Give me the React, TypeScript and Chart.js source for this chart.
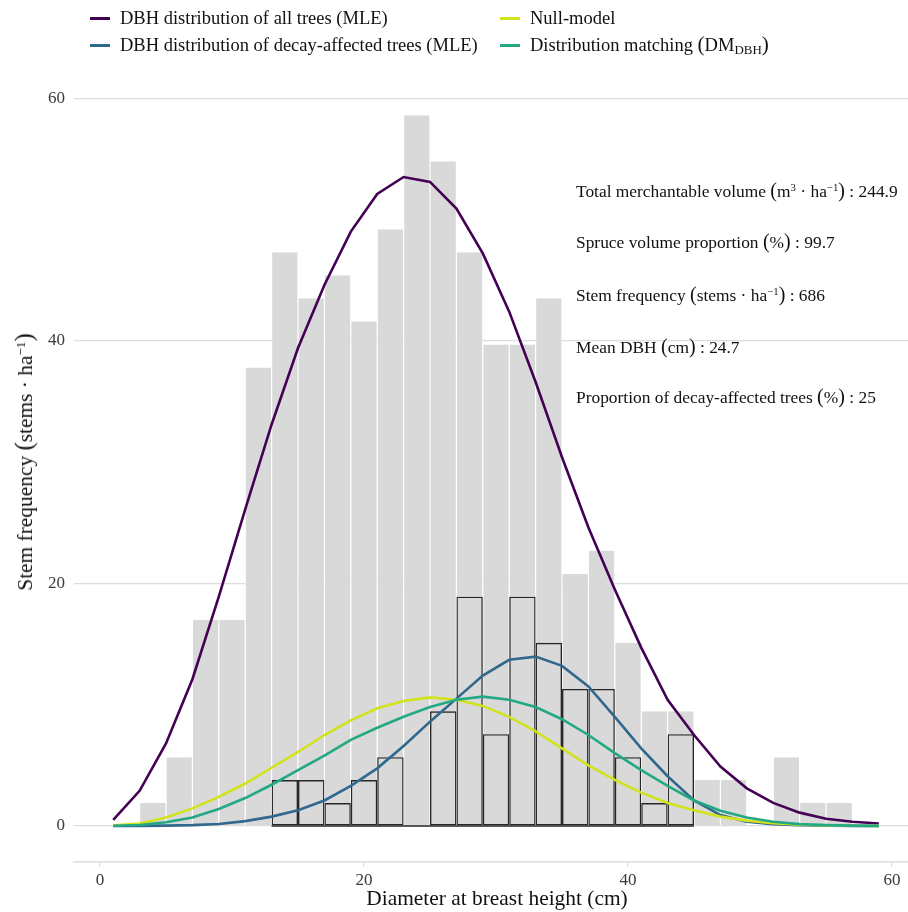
import React, { useEffect, useRef } from 'react';
import { Chart, registerables } from 'chart.js';

Chart.register(...registerables);

// Histogram bins (2 cm wide, centred on even diameters)
const binCenters = [2, 4, 6, 8, 10, 12, 14, 16, 18, 20, 22, 24, 26, 28, 30, 32, 34, 36, 38, 40, 42, 44, 46, 48, 50, 52, 54, 56, 58];
const allTrees = [0, 1.89, 5.67, 17.0, 17.0, 37.8, 47.3, 43.5, 45.4, 41.6, 49.2, 58.6, 54.8, 47.3, 39.7, 39.7, 43.5, 20.8, 22.7, 15.1, 9.45, 9.45, 3.78, 3.78, 0, 5.67, 1.89, 1.89, 0];

const decayCenters = [14, 16, 18, 20, 22, 24, 26, 28, 30, 32, 34, 36, 38, 40, 42, 44];
const decayTrees = [3.78, 3.78, 1.89, 3.78, 5.67, 0, 9.45, 18.9, 7.56, 18.9, 15.1, 11.3, 11.3, 5.67, 1.89, 7.56];

// Fitted curves evaluated at odd diameters
const curveX = [1, 3, 5, 7, 9, 11, 13, 15, 17, 19, 21, 23, 25, 27, 29, 31, 33, 35, 37, 39, 41, 43, 45, 47, 49, 51, 53, 55, 57, 59];
const mleAll = [0.5, 2.9, 6.8, 12.1, 18.9, 26.1, 33.1, 39.4, 44.6, 49.0, 52.1, 53.5, 53.1, 50.9, 47.2, 42.4, 36.6, 30.4, 24.6, 19.5, 14.7, 10.4, 7.5, 4.9, 3.1, 1.9, 1.1, 0.6, 0.35, 0.2];
const mleDecay = [0, 0.01, 0.03, 0.07, 0.16, 0.4, 0.77, 1.3, 2.1, 3.3, 4.75, 6.6, 8.6, 10.5, 12.4, 13.7, 13.96, 13.2, 11.5, 9.0, 6.4, 4.1, 2.1, 0.9, 0.35, 0.15, 0.06, 0.02, 0.01, 0];
const nullModel = [0.05, 0.2, 0.7, 1.45, 2.4, 3.5, 4.8, 6.1, 7.5, 8.7, 9.7, 10.3, 10.6, 10.4, 9.9, 9.0, 7.8, 6.4, 5.0, 3.8, 2.75, 1.9, 1.3, 0.77, 0.44, 0.22, 0.1, 0.05, 0.02, 0.01];
const distMatching = [0.02, 0.08, 0.3, 0.7, 1.4, 2.3, 3.4, 4.6, 5.8, 7.1, 8.1, 9.0, 9.8, 10.4, 10.66, 10.4, 9.8, 8.8, 7.5, 6.0, 4.6, 3.3, 2.1, 1.26, 0.7, 0.35, 0.15, 0.07, 0.03, 0.01];

const yTicks = [0, 20, 40, 60];
const xTicks = [0, 20, 40, 60];

const FONT = '"Liberation Serif", "Times New Roman", serif';

const COLORS = {
  all: '#440154',
  decay: '#31688E',
  nullm: '#D2E21B',
  dm: '#23A884',
};

const pts = (xs: number[], ys: number[]) => xs.map((x, i) => ({ x, y: ys[i] }));

export default function App() {
  const ref = useRef<HTMLCanvasElement>(null);

  useEffect(() => {
    document.body.style.margin = '0';
    const ctx = ref.current!;
    const lineDs = (label: string, data: number[], color: string, order: number) => ({
      type: 'line' as const,
      label,
      data: pts(curveX, data),
      borderColor: color,
      backgroundColor: color,
      borderWidth: 2.6,
      pointRadius: 0,
      tension: 0,
      fill: false,
      order,
    });
    const chart = new Chart(ctx, {
      type: 'bar',
      data: {
        datasets: [
          {
            type: 'bar',
            label: 'All trees',
            data: pts(binCenters, allTrees),
            backgroundColor: '#D9D9D9',
            borderColor: '#FFFFFF',
            borderWidth: { left: 0.6, right: 0.6, top: 0, bottom: 0 },
            borderSkipped: false,
            inflateAmount: 0,
            barPercentage: 1,
            categoryPercentage: 1,
            grouped: false,
            order: 20,
          } as any,
          {
            type: 'bar',
            label: 'Decay-affected trees',
            data: pts(decayCenters, decayTrees),
            backgroundColor: 'rgba(0,0,0,0)',
            borderColor: '#262626',
            borderWidth: 1.35,
            borderSkipped: false,
            inflateAmount: 0,
            barPercentage: 1,
            categoryPercentage: 1,
            grouped: false,
            order: 15,
          } as any,
          {
            type: 'line',
            label: 'baseline',
            data: [
              { x: decayCenters[0] - 1, y: 0 },
              { x: decayCenters[decayCenters.length - 1] + 1, y: 0 },
            ],
            borderColor: '#262626',
            borderWidth: 1.5,
            pointRadius: 0,
            order: 14,
          } as any,
          lineDs('DBH distribution of all trees (MLE)', mleAll, COLORS.all, 4),
          lineDs('DBH distribution of decay-affected trees (MLE)', mleDecay, COLORS.decay, 3),
          lineDs('Null-model', nullModel, COLORS.nullm, 2),
          lineDs('Distribution matching (DM_DBH)', distMatching, COLORS.dm, 1),
        ],
      },
      options: {
        responsive: false,
        animation: false,
        devicePixelRatio: 1,
        layout: { padding: { top: 79, left: 0, right: 0, bottom: 0 } },
        plugins: {
          legend: { display: false },
          tooltip: { enabled: false },
        },
        scales: {
          x: {
            type: 'linear',
            offset: false,
            min: -1.97,
            max: 61.21,
            afterBuildTicks: (axis: any) => {
              axis.ticks = xTicks.map((v) => ({ value: v }));
            },
            afterFit: (scale: any) => {
              scale.height = 50;
            },
            grid: {
              display: true,
              offset: false,
              drawOnChartArea: false,
              drawTicks: true,
              tickLength: 5,
              color: '#DEDEDE',
              lineWidth: 1.2,
            },
            border: { display: true, color: '#DEDEDE', width: 1.5 },
            ticks: {
              color: '#3A3A3A',
              font: { family: FONT, size: 17 },
              padding: 3,
              maxRotation: 0,
            },
            title: { display: false },
          },
          y: {
            type: 'linear',
            min: -2.97,
            max: 61.58,
            afterBuildTicks: (axis: any) => {
              axis.ticks = yTicks.map((v) => ({ value: v }));
            },
            afterFit: (scale: any) => {
              scale.width = 74;
            },
            grid: {
              display: true,
              drawTicks: false,
              color: '#DCDCDC',
              lineWidth: 1.2,
            },
            border: { display: false },
            ticks: {
              color: '#3A3A3A',
              font: { family: FONT, size: 17 },
              padding: 9,
            },
            title: { display: false },
          },
        },
      },
    } as any);
    return () => chart.destroy();
  }, []);

  const legendItem = (left: number, cy: number, color: string, content: React.ReactNode) => (
    <div
      style={{
        position: 'absolute',
        left,
        top: cy - 13,
        height: 26,
        display: 'flex',
        alignItems: 'center',
        whiteSpace: 'nowrap',
        fontSize: 18.5,
        color: '#111',
      }}
    >
      <div style={{ width: 20, height: 3, background: color, marginRight: 10 }} />
      <span>{content}</span>
    </div>
  );

  const supStyle: React.CSSProperties = { fontSize: '0.62em', verticalAlign: '0.55em', lineHeight: 0 };
  const subStyle: React.CSSProperties = { fontSize: '0.7em', verticalAlign: '-0.25em', lineHeight: 0 };
  const bigParen: React.CSSProperties = { fontSize: '1.15em', lineHeight: 0 };

  const annRows: React.ReactNode[] = [
    <>Total merchantable volume <span style={bigParen}>(</span>m<span style={supStyle}>3</span> · ha<span style={supStyle}>−1</span><span style={bigParen}>)</span> : 244.9</>,
    <>Spruce volume proportion <span style={bigParen}>(</span>%<span style={bigParen}>)</span> : 99.7</>,
    <>Stem frequency <span style={bigParen}>(</span>stems · ha<span style={supStyle}>−1</span><span style={bigParen}>)</span> : 686</>,
    <>Mean DBH <span style={bigParen}>(</span>cm<span style={bigParen}>)</span> : 24.7</>,
    <>Proportion of decay-affected trees <span style={bigParen}>(</span>%<span style={bigParen}>)</span> : 25</>,
  ];
  const annY = [191, 242, 295, 347, 397];

  const centered = (cx: number, cy: number, rotate: number, content: React.ReactNode) => (
    <div style={{ position: 'absolute', left: cx, top: cy, width: 0, height: 0 }}>
      <div
        style={{
          position: 'absolute',
          left: 0,
          top: 0,
          whiteSpace: 'nowrap',
          lineHeight: '26px',
          fontSize: 21.4,
          color: '#111',
          transform: `translate(-50%, -50%) rotate(${rotate}deg)`,
        }}
      >
        {content}
      </div>
    </div>
  );

  return (
    <div style={{ position: 'relative', width: 908, height: 912, fontFamily: FONT, overflow: 'hidden' }}>
      <canvas ref={ref} width={908} height={912} style={{ position: 'absolute', left: 0, top: 0, width: 908, height: 912 }} />
      {legendItem(90, 18, COLORS.all, 'DBH distribution of all trees (MLE)')}
      {legendItem(90, 45, COLORS.decay, 'DBH distribution of decay-affected trees (MLE)')}
      {legendItem(500, 18, COLORS.nullm, 'Null-model')}
      {legendItem(500, 45, COLORS.dm, <>Distribution matching <span style={bigParen}>(</span>DM<span style={subStyle}>DBH</span><span style={bigParen}>)</span></>)}
      {annRows.map((row, i) => (
        <div
          key={i}
          style={{
            position: 'absolute',
            left: 576,
            top: annY[i] - 12,
            height: 24,
            lineHeight: '24px',
            fontSize: 17.4,
            whiteSpace: 'nowrap',
            color: '#111',
          }}
        >
          {row}
        </div>
      ))}
      {centered(497, 898, 0, 'Diameter at breast height (cm)')}
      {centered(25, 462, -90, <>Stem frequency <span style={bigParen}>(</span>stems · ha<span style={supStyle}>−1</span><span style={bigParen}>)</span></>)}
    </div>
  );
}
